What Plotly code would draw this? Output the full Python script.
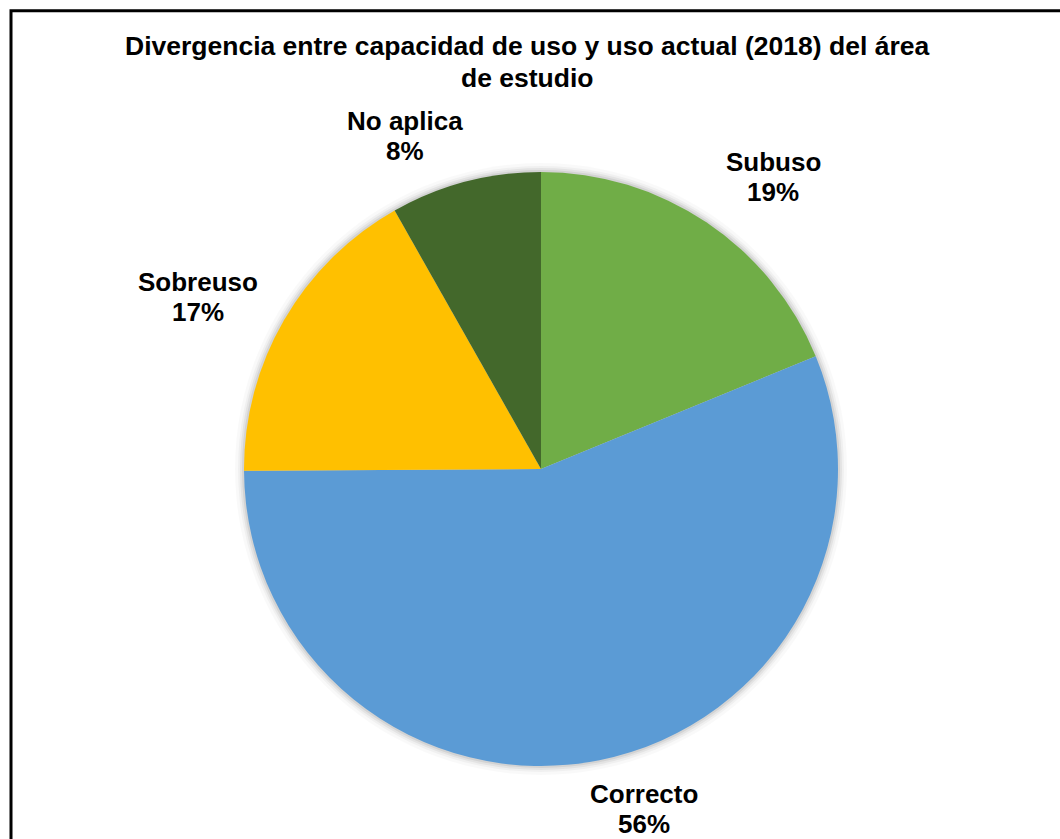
import plotly.graph_objects as go

# ---- data ----
categories = ["Subuso", "Correcto", "Sobreuso", "No aplica"]
values = [18.8, 56.1, 16.9, 8.2]
title_lines = ["Divergencia entre capacidad de uso y uso actual (2018) del área", "de estudio"]

# ---- style ----
colors = ["#70AD47", "#5B9BD5", "#FFC000", "#43682B"]
W, H = 1060, 839
FONT = "Liberation Sans, Arial, sans-serif"
# pie geometry in pixels (center x, center y, radius)
CX, CY, R = 541, 469, 297
# label block centres in pixels
label_px = [(773, 177), (644, 809), (198, 297), (405, 136)]
LABEL_GAP = 30
TITLE_CENTER = (527, 62)
TITLE_GAP = 32.5


def px(x):
    return x / W


def py(y):
    return 1 - y / H


fig = go.Figure()

# soft shadow behind the pie
for i, (grow, alpha) in enumerate([(9, 0.025), (6, 0.035), (4, 0.05), (2, 0.07)]):
    r = R + grow
    fig.add_trace(go.Pie(
        values=[1], labels=["shadow%d" % i], sort=False,
        marker=dict(colors=["rgba(0,0,0,%s)" % alpha], line=dict(width=0)),
        textinfo="none", hoverinfo="skip", showlegend=False,
        domain=dict(x=[px(CX - r), px(CX + r)], y=[py(CY + r), py(CY - r)]),
    ))

fig.add_trace(go.Pie(
    labels=categories, values=values, sort=False, direction="clockwise", rotation=0,
    marker=dict(colors=colors, line=dict(width=0)),
    textinfo="none", showlegend=False,
    domain=dict(x=[px(CX - R), px(CX + R)], y=[py(CY + R), py(CY - R)]),
))


def text_block(lines, cx, cy, gap, size):
    out = []
    n = len(lines)
    for k, line in enumerate(lines):
        yy = cy + (k - (n - 1) / 2) * gap
        out.append(dict(
            text="<b>%s</b>" % line, x=px(cx), y=py(yy),
            xref="paper", yref="paper", xanchor="center", yanchor="middle",
            showarrow=False, align="center",
            font=dict(family=FONT, size=size, color="#000000"),
        ))
    return out


total = sum(values)
annotations = []
for cat, val, (lx, ly) in zip(categories, values, label_px):
    pct = round(val / total * 100)
    annotations += text_block([cat, "%d%%" % pct], lx, ly, LABEL_GAP, 26)

annotations += text_block(title_lines, TITLE_CENTER[0], TITLE_CENTER[1], TITLE_GAP, 26.5)

fig.update_layout(
    width=W, height=H,
    margin=dict(l=0, r=0, t=0, b=0),
    paper_bgcolor="white", plot_bgcolor="white",
    annotations=annotations,
    shapes=[dict(type="rect", xref="paper", yref="paper",
                 x0=px(11), y0=-0.1, x1=1.1, y1=py(10.7),
                 line=dict(color="#000000", width=3), fillcolor="rgba(0,0,0,0)")],
)

fig.write_html("out.html", config={"displayModeBar": False},
               post_script="document.body.style.margin='0';document.body.style.overflow='hidden';")
